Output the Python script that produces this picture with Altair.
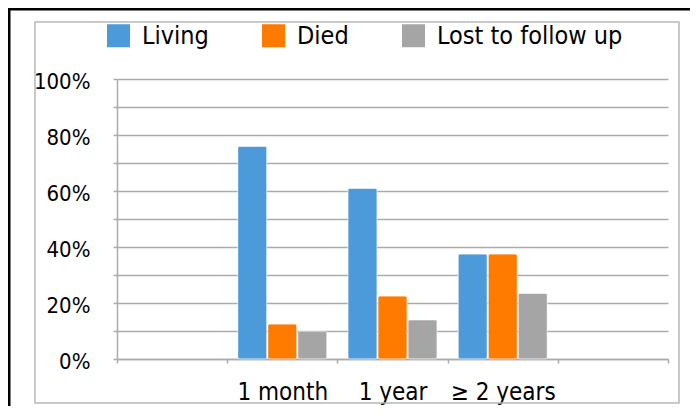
import altair as alt
import pandas as pd

categories = ["1 month", "1 year", "≥ 2 years"]
series = ["Living", "Died", "Lost to follow up"]
living = [76, 61, 37.5]
died = [12.5, 22.5, 37.5]
lost = [10, 14, 23.5]
colors = ["#4D9ADA", "#FF7B00", "#A5A5A5"]
x_domain = [" ", "1 month", "1 year", "≥ 2 years", "  "]
y_ticks = [0, 0.1, 0.2, 0.3, 0.4, 0.5, 0.6, 0.7, 0.8, 0.9, 1.0]

rows = []
for s, vals in zip(series, [living, died, lost]):
    for c, v in zip(categories, vals):
        rows.append({"category": c, "series": s, "value": v / 100})
df = pd.DataFrame(rows)

FONT = "DejaVu Sans Condensed"
GRID = "#ababab"

one = alt.Data(values=[{"k": 1}])

black_frame = alt.Chart(one).mark_rect(fillOpacity=0, stroke="black", strokeWidth=3).encode(
    x=alt.value(-108), x2=alt.value(600), y=alt.value(-70), y2=alt.value(360)
)
gray_frame = alt.Chart(one).mark_rect(fillOpacity=0, stroke="#b8b8b8", strokeWidth=1.5).encode(
    x=alt.value(-82), x2=alt.value(562), y=alt.value(-57), y2=alt.value(324)
)

bars = alt.Chart(df).mark_bar(cornerRadius=2, stroke="white", strokeWidth=0.8, strokeOpacity=0.6).encode(
    x=alt.X(
        "category:N",
        scale=alt.Scale(domain=x_domain, paddingInner=0, paddingOuter=0),
        axis=alt.Axis(
            title=None, labelAngle=0, tickBand="extent", ticks=True, tickSize=4,
            tickColor=GRID, tickWidth=1.5, domainColor=GRID, domainWidth=1.5,
            labelFont=FONT, labelFontSize=24, labelColor="black", labelPadding=17,
            grid=False,
        ),
    ),
    xOffset=alt.XOffset("series:N", sort=series, scale=alt.Scale(paddingInner=0.03, paddingOuter=0.35)),
    y=alt.Y(
        "value:Q",
        scale=alt.Scale(domain=[0, 1], nice=False),
        axis=alt.Axis(
            title=None, values=y_ticks, format=".0%",
            labelExpr="round(datum.value*100) % 20 == 0 ? datum.label : ''",
            tickSize=4, tickColor=GRID, tickWidth=1.5, domainColor=GRID, domainWidth=1.5,
            gridColor=GRID, gridWidth=1.5, labelFont=FONT, labelFontSize=22,
            labelColor="black", labelPadding=23, labelOffset=2,
        ),
    ),
    color=alt.Color(
        "series:N", sort=series, scale=alt.Scale(domain=series, range=colors),
        legend=alt.Legend(
            orient="none", legendX=-11, legendY=-56, direction="horizontal", title=None,
            symbolType="square", symbolSize=529, symbolStrokeWidth=0, labelFont=FONT,
            labelFontSize=25, labelOffset=11, columnPadding=52, padding=0,
            labelColor="black", labelLimit=400,
        ),
    ),
)

chart = alt.layer(black_frame, gray_frame, bars).properties(
    width=551, height=280,
    padding={"left": 109, "top": 71, "right": 22, "bottom": 47},
    autosize=alt.AutoSizeParams(type="none"),
    background="white",
).configure_view(stroke=None)

chart.save("out.html", embed_options={"renderer": "svg", "actions": False})
